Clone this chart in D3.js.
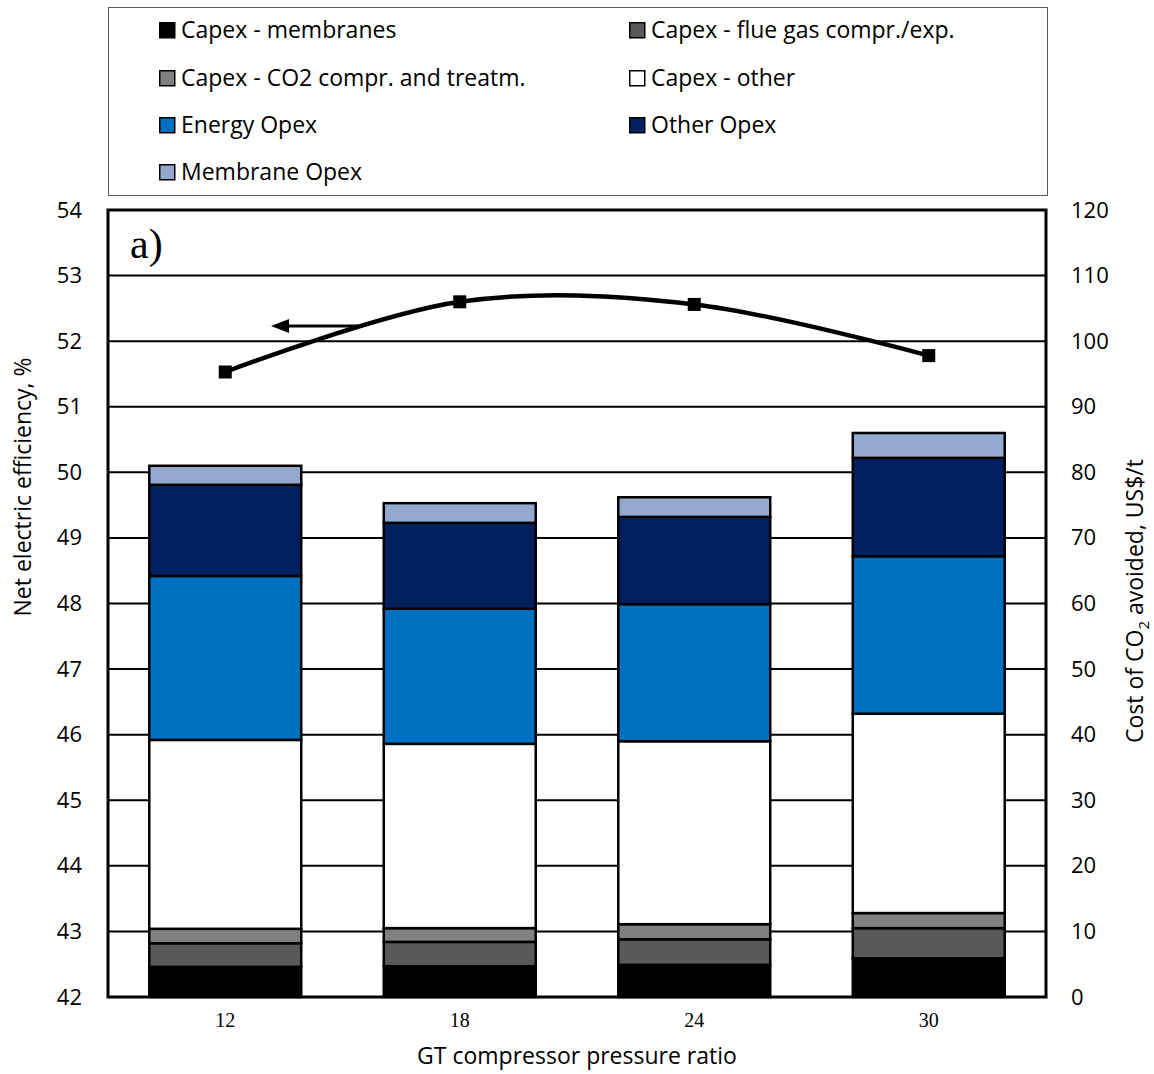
<!DOCTYPE html>
<html>
<head>
<meta charset="utf-8">
<script src="https://cdn.jsdelivr.net/npm/d3@7"></script>
<style>
  html, body { margin: 0; padding: 0; background: #fff; }
  svg { display: block; }
</style>
</head>
<body>
<svg id="chart" width="1154" height="1074"></svg>
<script>
// GT compressor pressure ratios
const ratios = ["12", "18", "24", "30"];

// Cost of CO2 avoided components, US$/t
const series = [
  "Capex - membranes",
  "Capex - flue gas compr./exp.",
  "Capex - CO2 compr. and treatm.",
  "Capex - other",
  "Energy Opex",
  "Other Opex",
  "Membrane Opex"
];
const capexMembranes = [4.6, 4.7, 4.9, 5.9];
const capexFlueGas   = [3.6, 3.7, 3.9, 4.6];
const capexCO2       = [2.2, 2.1, 2.3, 2.3];
const capexOther     = [28.8, 28.1, 27.9, 30.4];
const energyOpex     = [25.0, 20.6, 20.9, 24.0];
const otherOpex      = [13.9, 13.1, 13.3, 15.0];
const membraneOpex   = [2.9, 3.0, 3.0, 3.8];

// Net electric efficiency, %
const efficiency = [51.53, 52.60, 52.56, 51.78];

// Axis ticks
const leftTicks = [42, 43, 44, 45, 46, 47, 48, 49, 50, 51, 52, 53, 54];
const rightTicks = [0, 10, 20, 30, 40, 50, 60, 70, 80, 90, 100, 110, 120];

const colors = ["#000000", "#595959", "#808080", "#ffffff", "#0070C0", "#002060", "#95A9D0"];
const valueSets = [capexMembranes, capexFlueGas, capexCO2, capexOther, energyOpex, otherOpex, membraneOpex];

const SANS = "'Open Sans', sans-serif";
const SERIF = "'Liberation Serif', 'Times New Roman', serif";

const rows = ratios.map((r, i) => {
  const o = { ratio: r };
  series.forEach((s, k) => { o[s] = valueSets[k][i]; });
  return o;
});

const svg = d3.select("#chart").style("font-family", SANS);
const plot = { left: 108, right: 1046, top: 210, bottom: 997 };

const x = d3.scaleBand().domain(ratios).range([plot.left, plot.right]).paddingInner(0.352).paddingOuter(0.176);
const yL = d3.scaleLinear().domain([42, 54]).range([plot.bottom, plot.top]);
const yR = d3.scaleLinear().domain([0, 120]).range([plot.bottom, plot.top]);

// Legend box
const legend = svg.append("g");
legend.append("rect")
  .attr("x", 108.5).attr("y", 7.5).attr("width", 939).attr("height", 188)
  .attr("fill", "#fff").attr("stroke", "#595959").attr("stroke-width", 1);
const legendRows = [30, 78, 125, 172];
const legendCols = [159, 629];
series.forEach((s, k) => {
  const col = k % 2, row = Math.floor(k / 2);
  const g = legend.append("g").attr("transform", `translate(${legendCols[col]},${legendRows[row]})`);
  g.append("rect").attr("x", 0.75).attr("y", -7.25).attr("width", 15).attr("height", 15)
    .attr("fill", colors[k]).attr("stroke", "#000").attr("stroke-width", 1.5);
  g.append("text").attr("x", 22).attr("y", 0).attr("dy", "0.35em")
    .style("font-family", SANS).attr("font-size", 23).attr("fill", "#000").text(s);
});

// Horizontal gridlines
svg.append("g").selectAll("line")
  .data(leftTicks.filter(t => t > 42 && t < 54))
  .join("line")
  .attr("x1", plot.left).attr("x2", plot.right)
  .attr("y1", d => yL(d)).attr("y2", d => yL(d))
  .attr("stroke", "#000").attr("stroke-width", 2);

// Stacked bars
const stack = d3.stack().keys(series);
const layers = stack(rows);
svg.append("g").selectAll("g")
  .data(layers)
  .join("g")
  .attr("fill", (d, i) => colors[i])
  .selectAll("rect")
  .data(d => d)
  .join("rect")
  .attr("x", d => x(d.data.ratio))
  .attr("width", x.bandwidth())
  .attr("y", d => yR(d[1]))
  .attr("height", d => yR(d[0]) - yR(d[1]))
  .attr("stroke", "#000").attr("stroke-width", 2.5);

// Plot frame
svg.append("rect")
  .attr("x", plot.left).attr("y", plot.top)
  .attr("width", plot.right - plot.left).attr("height", plot.bottom - plot.top)
  .attr("fill", "none").attr("stroke", "#000").attr("stroke-width", 3);

// Left axis
const leftAxis = svg.append("g").attr("transform", `translate(${plot.left},0)`)
  .call(d3.axisLeft(yL).tickValues(leftTicks).tickSize(0).tickPadding(26));
leftAxis.select(".domain").remove();
leftAxis.selectAll("text").style("font-family", SANS).attr("font-size", 22).attr("fill", "#000");

// Right axis
const rightAxis = svg.append("g").attr("transform", `translate(${plot.right},0)`)
  .call(d3.axisRight(yR).tickValues(rightTicks).tickSize(0).tickPadding(25));
rightAxis.select(".domain").remove();
rightAxis.selectAll("text").style("font-family", SANS).attr("font-size", 22).attr("fill", "#000");

// Bottom axis
const bottomAxis = svg.append("g").attr("transform", `translate(0,${plot.bottom})`)
  .call(d3.axisBottom(x).tickSize(0).tickPadding(16));
bottomAxis.select(".domain").remove();
bottomAxis.selectAll("text").style("font-family", SERIF).attr("font-size", 20).attr("fill", "#000");

// Axis titles
svg.append("text").attr("x", 577).attr("y", 1064).attr("text-anchor", "middle")
  .style("font-family", SANS).attr("font-size", 23).attr("fill", "#000").text("GT compressor pressure ratio");
svg.append("text").attr("transform", "translate(31,487) rotate(-90)").attr("text-anchor", "middle")
  .style("font-family", SANS).attr("font-size", 23).attr("fill", "#000").text("Net electric efficiency, %");
const rt = svg.append("text").attr("transform", "translate(1143,601) rotate(-90)").attr("text-anchor", "middle")
  .style("font-family", SANS).attr("font-size", 23).attr("fill", "#000");
rt.append("tspan").text("Cost of CO");
rt.append("tspan").attr("font-size", 15).attr("dy", 6).text("2");
rt.append("tspan").attr("dy", -6).text(" avoided, US$/t");

// Panel label
svg.append("text").attr("x", 130).attr("y", 258)
  .style("font-family", SERIF).attr("font-size", 42).attr("fill", "#000").text("a)");

// Efficiency line (left axis)
const line = d3.line()
  .x((d, i) => x(ratios[i]) + x.bandwidth() / 2)
  .y(d => yL(d))
  .curve(d3.curveCardinal.tension(0));
svg.append("path").datum(efficiency)
  .attr("d", line).attr("fill", "none").attr("stroke", "#000").attr("stroke-width", 4.5);
svg.append("g").selectAll("rect")
  .data(efficiency)
  .join("rect")
  .attr("x", (d, i) => x(ratios[i]) + x.bandwidth() / 2 - 6.5)
  .attr("y", d => yL(d) - 6.5)
  .attr("width", 13).attr("height", 13).attr("fill", "#000");

// Arrow pointing to the left axis
const arrowY = yL(52.23);
svg.append("line").attr("x1", 358).attr("x2", 282).attr("y1", arrowY).attr("y2", arrowY)
  .attr("stroke", "#000").attr("stroke-width", 3);
svg.append("path")
  .attr("d", `M271,${arrowY} L289,${arrowY - 7} L289,${arrowY + 7} Z`)
  .attr("fill", "#000");
</script>
</body>
</html>
